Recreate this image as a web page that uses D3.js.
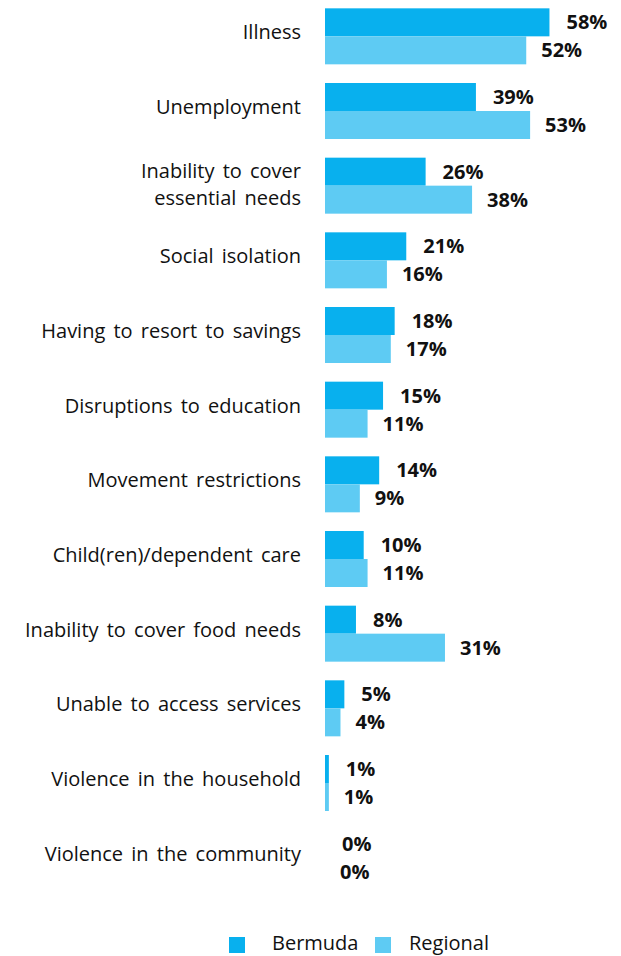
<!DOCTYPE html>
<html>
<head>
<meta charset="utf-8">
<script src="https://cdn.jsdelivr.net/npm/d3@7"></script>
<style>
  body { margin: 0; background: #fff; }
  text { font-family: "Open Sans", sans-serif; }
</style>
</head>
<body>
<div id="chart"></div>
<script>
// data
var categories = [
  ["Illness"],
  ["Unemployment"],
  ["Inability to cover", "essential needs"],
  ["Social isolation"],
  ["Having to resort to savings"],
  ["Disruptions to education"],
  ["Movement restrictions"],
  ["Child(ren)/dependent care"],
  ["Inability to cover food needs"],
  ["Unable to access services"],
  ["Violence in the household"],
  ["Violence in the community"]
];
var bermuda = [58, 39, 26, 21, 18, 15, 14, 10, 8, 5, 1, 0];
var regional = [52, 53, 38, 16, 17, 11, 9, 11, 31, 4, 1, 0];
var seriesNames = ["Bermuda", "Regional"];
var colors = ["#08b0ee", "#5ecbf3"];

var svgWidth = 621;
var svgHeight = 956;

var svg = d3.select("#chart")
  .append("svg")
  .attr("width", svgWidth)
  .attr("height", svgHeight);

var x = d3.scaleLinear()
  .domain([0, 100])
  .range([325, 712]);

var y = d3.scaleBand()
  .domain(d3.range(categories.length))
  .range([-1, 895])
  .paddingInner(0.25)
  .paddingOuter(0.125);

var sub = d3.scaleBand()
  .domain([0, 1])
  .range([0, y.bandwidth()]);

var rows = categories.map(function(c, i) {
  return { lines: c, vals: [bermuda[i], regional[i]], i: i };
});

var groups = svg.selectAll(null)
  .data(rows)
  .enter()
  .append("g")
  .attr("transform", d => `translate(0, ${y(d.i)})`);

// category labels
groups.append("text")
  .attr("x", 301)
  .attr("text-anchor", "end")
  .attr("font-size", 20)
  .attr("word-spacing", 3)
  .attr("fill", "#111")
  .each(function(d) {
    var t = d3.select(this);
    var base = y.bandwidth() / 2 + 3;
    var start = d.lines.length > 1 ? base - 13.5 + 3 : base;
    d.lines.forEach(function(l, k) {
      t.append("tspan")
        .attr("x", 301)
        .attr("y", start + k * 27)
        .text(l);
    });
  });

// bars
groups.selectAll("rect")
  .data(d => d.vals.map((v, k) => ({ v: v, k: k })))
  .enter()
  .append("rect")
  .attr("x", x(0))
  .attr("y", d => sub(d.k))
  .attr("width", d => x(d.v) - x(0))
  .attr("height", sub.bandwidth())
  .attr("fill", d => colors[d.k]);

// value labels
groups.selectAll(".val")
  .data(d => d.vals.map((v, k) => ({ v: v, k: k })))
  .enter()
  .append("text")
  .attr("class", "val")
  .attr("x", d => x(d.v) + (d.k == 0 ? 17 : 15))
  .attr("y", d => sub(d.k) + sub.bandwidth() / 2)
  .attr("dy", "0.35em")
  .attr("font-size", 20)
  .attr("font-weight", "bold")
  .attr("fill", "#111")
  .text(d => d.v + "%");

// legend
var legend = svg.append("g");
var legX = [229, 375];
seriesNames.forEach(function(name, k) {
  legend.append("rect")
    .attr("x", legX[k])
    .attr("y", 937)
    .attr("width", 16)
    .attr("height", 16)
    .attr("fill", colors[k]);
  legend.append("text")
    .attr("x", legX[k] + (k == 0 ? 43 : 34))
    .attr("y", 943)
    .attr("dy", "0.35em")
    .attr("font-size", 20)
    .attr("fill", "#111")
    .text(name);
});
</script>
</body>
</html>
